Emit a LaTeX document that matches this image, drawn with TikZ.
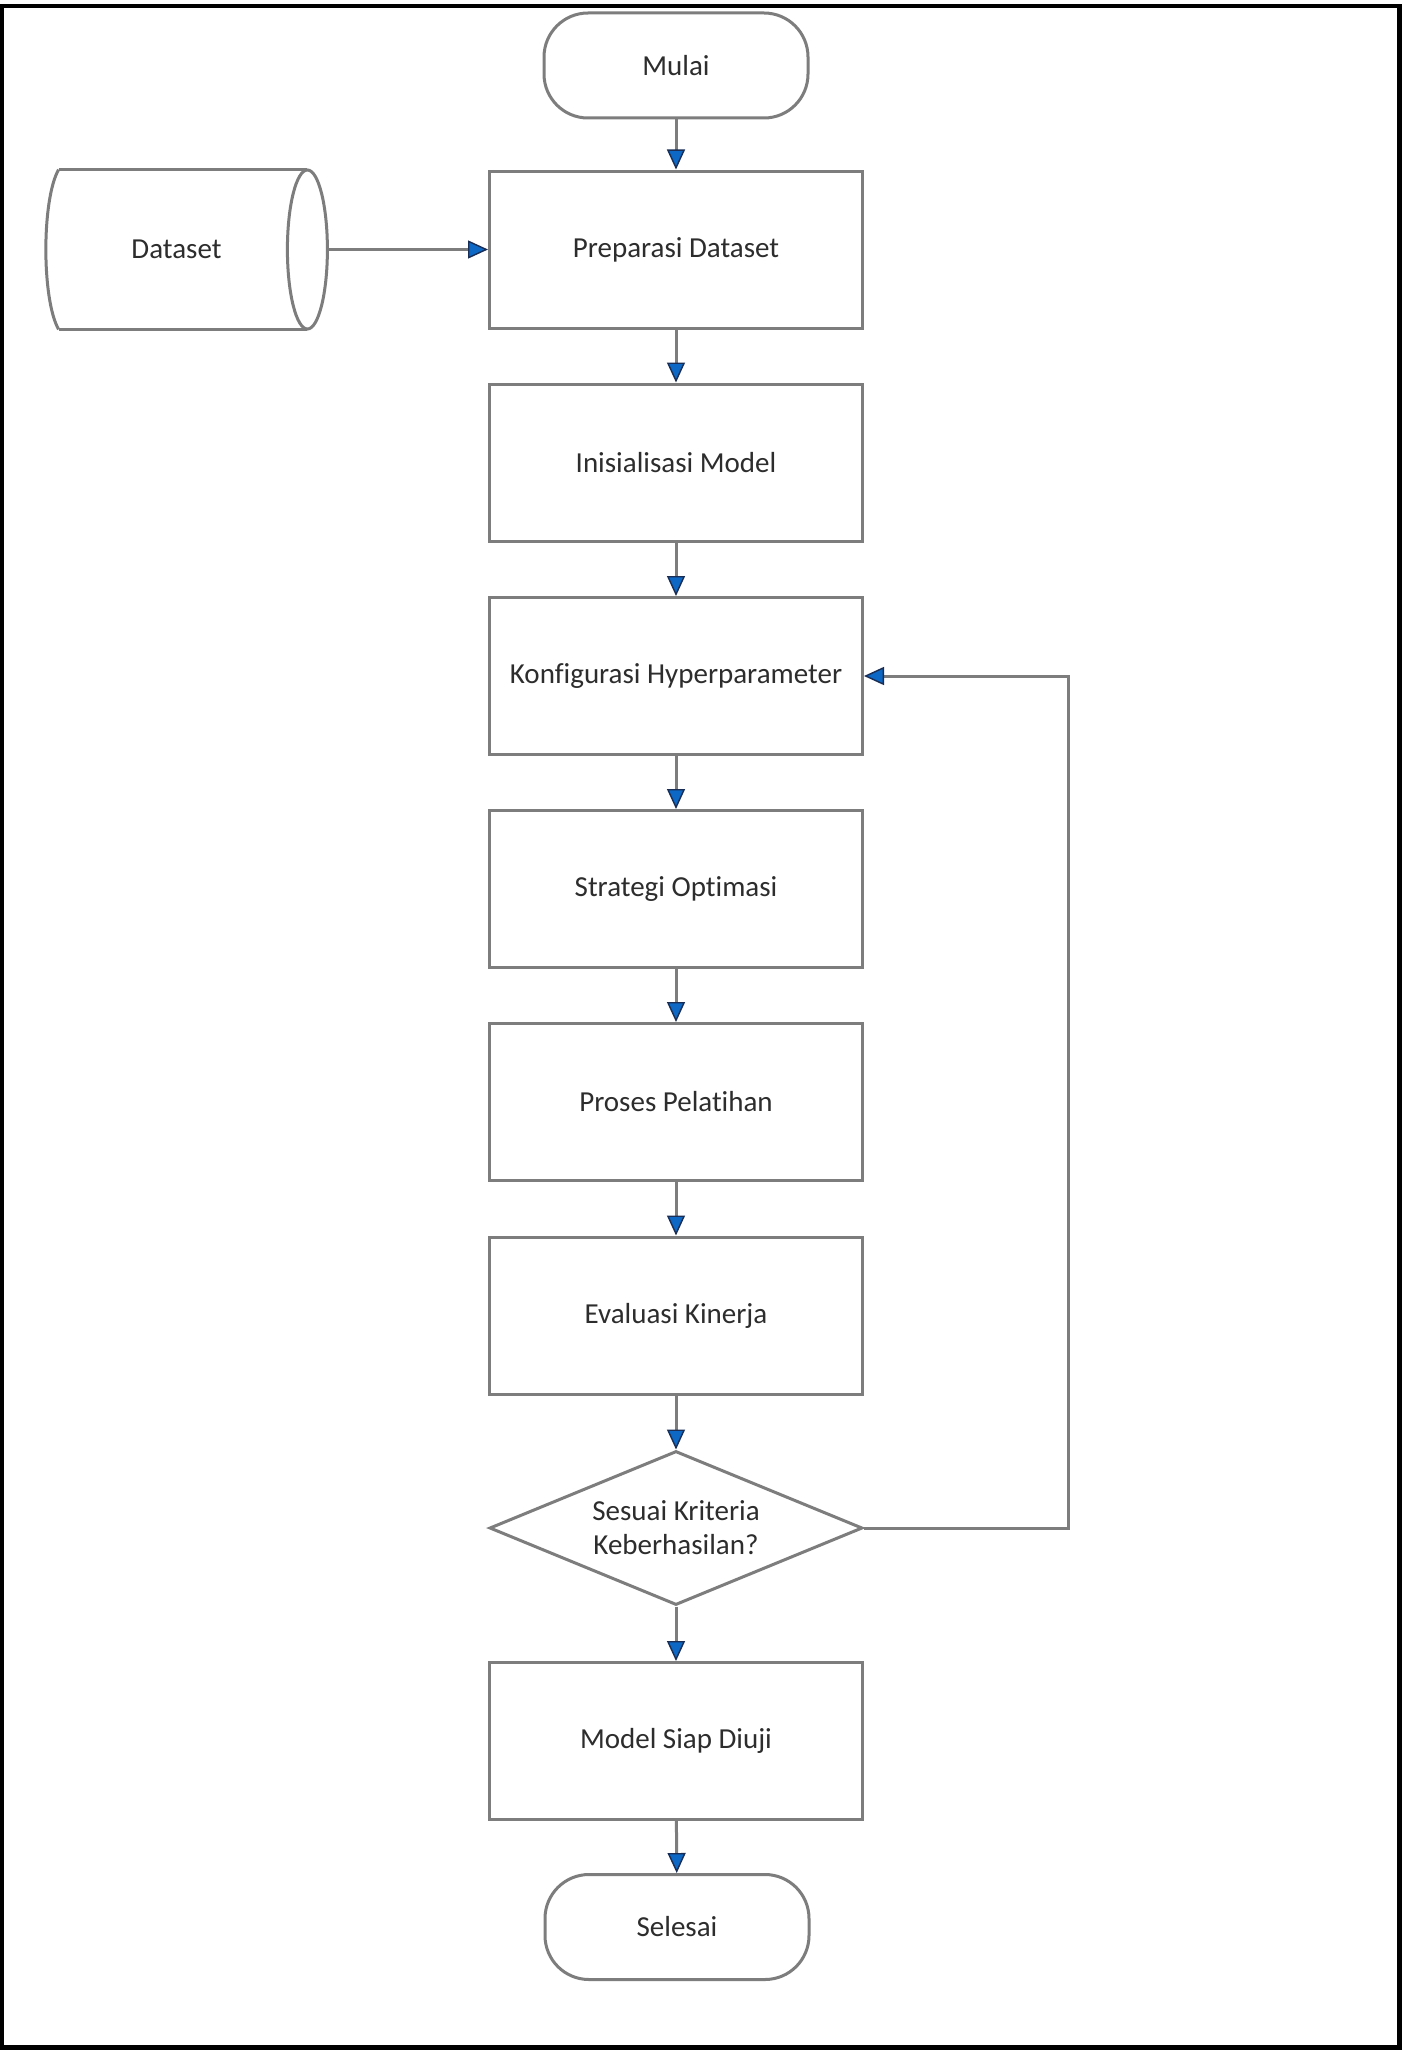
\documentclass[tikz,border=0pt]{standalone}
\usepackage{fontspec}
\setmainfont{Carlito}[Ligatures={NoCommon,NoDiscretionary}]
\usetikzlibrary{arrows.meta,shapes.geometric,calc}
\definecolor{linegray}{RGB}{125,125,125}
\definecolor{tipblue}{RGB}{12,104,196}
\definecolor{tipdark}{RGB}{25,45,85}
\definecolor{txt}{RGB}{45,45,45}
\begin{document}
\begin{tikzpicture}[x=0.5pt,y=-0.5pt,
  every node/.style={font=\fontsize{14.5}{17}\selectfont, text=txt, align=center},
  procbox/.style={draw=linegray, line width=1.5pt, minimum width=186.5pt, minimum height=78.5pt, inner sep=0pt},
  termbox/.style={draw=linegray, line width=1.5pt, rounded corners=22pt, minimum width=132pt, minimum height=52.5pt, inner sep=0pt},
  decbox/.style={draw=linegray, line width=1.5pt, diamond, aspect=2.42, minimum width=186.5pt, minimum height=77pt, inner sep=0pt},
  store/.style={draw=none, minimum width=130.5pt, minimum height=79.5pt, inner sep=0pt},
  shapeline/.style={draw=linegray, line width=1.5pt},
  arr/.style={draw=linegray, line width=1.5pt, -{Triangle[length=10pt,width=9pt,color=tipdark,fill=tipblue,line width=0.7pt]}}
]
\useasboundingbox (0,0) rectangle (1404,2050);
\fill[white] (0,0) rectangle (1404,2050);
\draw[line width=2.3pt] (2,6) rectangle (1399.5,2047.5);

\node[termbox] (mulai) at (676,65.5) {Mulai};
\node[procbox] (prep) at (676,249.5) {Preparasi Dataset};
\node[procbox] (init) at (676,462.5) {Inisialisasi Model};
\node[procbox] (konf) at (676,676) {Konfigurasi Hyperparameter};
\node[procbox] (strat) at (676,889) {Strategi Optimasi};
\node[procbox] (proses) at (676,1102) {Proses Pelatihan};
\node[procbox] (eval) at (676,1315.5) {Evaluasi Kinerja};
\node[decbox] (dec) at (676,1528) {Sesuai Kriteria\\Keberhasilan?};
\node[procbox] (siap) at (676,1741) {Model Siap Diuji};
\node[termbox] (selesai) at (677,1927) {Selesai};

% Dataset storage (horizontal cylinder)
\node[store] (ds) at (176.5,249.5) {Dataset};
\draw[shapeline] ($(ds.north west)+(13,0)$) -- (ds.north east);
\draw[shapeline] ($(ds.south west)+(13,0)$) -- (ds.south east);
\draw[shapeline] ($(ds.north west)+(13,0)$) .. controls ($(ds.north west)+(-4,30)$) and ($(ds.south west)+(-4,-30)$) .. ($(ds.south west)+(13,0)$);
\draw[shapeline] (ds.east) ellipse [x radius=20, y radius=79.5];
\coordinate (dsout) at ($(ds.east)+(20,0)$);

\draw[arr] (dsout) -- (dsout -| prep.west);
\draw[arr] (mulai) -- (prep);
\draw[arr] (prep) -- (init);
\draw[arr] (init) -- (konf);
\draw[arr] (konf) -- (strat);
\draw[arr] (strat) -- (proses);
\draw[arr] (proses) -- (eval);
\draw[arr] (eval) -- (dec);
\draw[arr] (dec) -- (siap);
\draw[arr] (siap) -- (selesai);
\coordinate (loopx) at (1068,1528);
\draw[arr] (dec.east) -- (loopx) |- (konf.east);
\end{tikzpicture}
\end{document}
